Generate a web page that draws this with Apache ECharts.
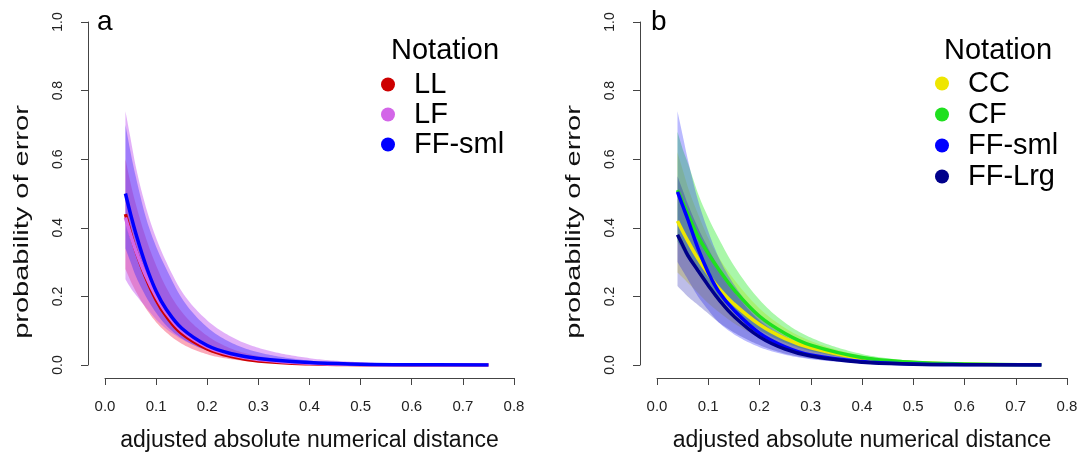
<!DOCTYPE html>
<html>
<head>
<meta charset="utf-8">
<script src="https://cdn.jsdelivr.net/npm/echarts@6/dist/echarts.min.js"></script>
<style>html,body{margin:0;padding:0;background:#fff}#c{width:1080px;height:452px}</style>
</head>
<body>
<div id="c"></div>
<script>
// ---- data ----
const xs = [0.04,0.05,0.06,0.08,0.1,0.12,0.15,0.2,0.25,0.3,0.4,0.5,0.6,0.75];

// panel a
const aLL      = [0.44,0.385,0.335,0.255,0.19,0.142,0.092,0.047,0.024,0.012,0.0035,0.001,0.0003,0.0001];
const aLLup    = [0.60,0.53,0.47,0.37,0.29,0.225,0.155,0.085,0.046,0.026,0.008,0.0025,0.0008,0.0002];
const aLLlo    = [0.28,0.245,0.215,0.165,0.125,0.095,0.062,0.031,0.016,0.008,0.002,0.0006,0.0002,0];
const aLF      = [0.43,0.38,0.335,0.26,0.20,0.152,0.10,0.053,0.029,0.016,0.005,0.0015,0.0005,0.0001];
const aLFup    = [0.74,0.66,0.58,0.46,0.37,0.30,0.215,0.13,0.08,0.05,0.02,0.008,0.003,0.001];
const aLFlo    = [0.25,0.225,0.205,0.168,0.133,0.105,0.075,0.042,0.024,0.013,0.004,0.0012,0.0004,0.0001];
const aFF      = [0.50,0.44,0.385,0.29,0.215,0.162,0.107,0.057,0.032,0.019,0.007,0.0025,0.0008,0.0002];
const aFFup    = [0.70,0.62,0.55,0.43,0.345,0.28,0.195,0.11,0.063,0.037,0.013,0.005,0.002,0.0005];
const aFFlo    = [0.34,0.30,0.26,0.20,0.152,0.115,0.078,0.042,0.023,0.013,0.004,0.0012,0.0004,0.0001];

// panel b
const bCC      = [0.42,0.39,0.362,0.31,0.265,0.225,0.178,0.118,0.077,0.05,0.019,0.007,0.0025,0.0006];
const bCCup    = [0.62,0.57,0.52,0.44,0.37,0.315,0.25,0.165,0.108,0.07,0.027,0.01,0.004,0.001];
const bCClo    = [0.27,0.255,0.24,0.21,0.18,0.155,0.122,0.08,0.051,0.033,0.012,0.004,0.0015,0.0003];
const bCF      = [0.51,0.475,0.44,0.375,0.325,0.28,0.22,0.142,0.092,0.058,0.022,0.008,0.003,0.0007];
const bCFup    = [0.68,0.63,0.59,0.50,0.43,0.37,0.29,0.19,0.123,0.08,0.032,0.012,0.005,0.0012];
const bCFlo    = [0.36,0.335,0.31,0.27,0.235,0.2,0.157,0.102,0.065,0.041,0.015,0.005,0.002,0.0004];
const bFFs     = [0.505,0.465,0.425,0.34,0.27,0.215,0.16,0.093,0.053,0.029,0.01,0.003,0.001,0.0002];
const bFFsup   = [0.74,0.67,0.60,0.48,0.39,0.315,0.235,0.14,0.085,0.05,0.018,0.0065,0.0025,0.0005];
const bFFslo   = [0.30,0.275,0.25,0.2,0.16,0.125,0.09,0.052,0.03,0.017,0.005,0.0015,0.0005,0.0001];
const bFFL     = [0.38,0.35,0.32,0.275,0.232,0.192,0.142,0.082,0.046,0.026,0.008,0.0025,0.0008,0.0002];
const bFFLup   = [0.55,0.51,0.47,0.40,0.34,0.285,0.215,0.13,0.08,0.05,0.018,0.0065,0.0025,0.0005];
const bFFLlo   = [0.23,0.215,0.2,0.175,0.15,0.125,0.095,0.058,0.033,0.019,0.006,0.0018,0.0006,0.0001];

const legendA = ['LL','LF','FF-sml'];
const legendB = ['CC','CF','FF-sml','FF-Lrg'];
const xTickLabels = ['0.0','0.1','0.2','0.3','0.4','0.5','0.6','0.7','0.8'];
const yTickLabels = ['0.0','0.2','0.4','0.6','0.8','1.0'];

// ---- styling ----
const FONT = '"Liberation Sans", Arial, Helvetica, sans-serif';
const COLORS = {
  'LL': '#CD0000', 'LF': '#D366E8', 'FF-sml': '#0000FF',
  'CC': '#EEE600', 'CF': '#1FE01F', 'FF-Lrg': '#00008B'
};
const BAND = {
  'LL': 'rgba(245,30,70,0.38)', 'LF': 'rgba(190,80,240,0.45)', 'FF-sml': 'rgba(50,40,255,0.38)',
  'CC': 'rgba(240,230,0,0.35)', 'CF': 'rgba(40,235,40,0.40)', 'FF-sml-b': 'rgba(40,40,255,0.32)', 'FF-Lrg': 'rgba(10,10,170,0.27)'
};

function pts(vals){ return xs.map((x,i)=>[x, vals[i]]); }

// monotone cubic (Fritsch-Carlson) in pixel space, used only to render smooth band edges
function smoothPath(p){
  const n = p.length, out = [];
  const d = [], m = new Array(n);
  for (let i=0;i<n-1;i++) d.push((p[i+1][1]-p[i][1])/(p[i+1][0]-p[i][0]));
  m[0]=d[0]; m[n-1]=d[n-2];
  for (let i=1;i<n-1;i++) m[i] = (d[i-1]*d[i] <= 0) ? 0 : (d[i-1]+d[i])/2;
  for (let i=0;i<n-1;i++){
    if (d[i]===0){ m[i]=0; m[i+1]=0; continue; }
    const a=m[i]/d[i], b=m[i+1]/d[i], s=a*a+b*b;
    if (s>9){ const t=3/Math.sqrt(s); m[i]=t*a*d[i]; m[i+1]=t*b*d[i]; }
  }
  for (let i=0;i<n-1;i++){
    const x0=p[i][0], x1=p[i+1][0], y0=p[i][1], y1=p[i+1][1], h=x1-x0;
    const steps = Math.max(4, Math.ceil(h/2));
    for (let k=0;k<steps;k++){
      const t=k/steps, t2=t*t, t3=t2*t;
      const y = (2*t3-3*t2+1)*y0 + (t3-2*t2+t)*h*m[i] + (-2*t3+3*t2)*y1 + (t3-t2)*h*m[i+1];
      out.push([x0+t*h, y]);
    }
  }
  out.push(p[n-1]);
  return out;
}

function band(key, colorKey, lo, up, gi){
  return { name: key + ' band ' + gi, type:'custom', xAxisIndex:gi, yAxisIndex:gi, silent:true, z:2,
    data: xs.map((x,i)=>[x, lo[i], up[i]]),
    encode:{x:0, y:[1,2]},
    renderItem: function(params, api){
      if (params.dataIndex !== 0) return null;
      const upP = xs.map((x,i)=>api.coord([x, up[i]]));
      const loP = xs.map((x,i)=>api.coord([x, lo[i]]));
      const pts2 = smoothPath(upP).concat(smoothPath(loP).reverse());
      return { type:'polygon', shape:{points:pts2}, style:{fill:BAND[colorKey], stroke:null} };
    }
  };
}
function line(key, vals, gi){
  return { name:key, type:'line', xAxisIndex:gi, yAxisIndex:gi, data:pts(vals),
    symbol:'none', smooth:0.4, color:COLORS[key],
    lineStyle:{width:3.5, color:COLORS[key]}, z:2 };
}

// drawing order as in the reference: each band then its line
const series = [
  band('LL','LL',aLLlo,aLLup,0), line('LL',aLL,0),
  band('LF','LF',aLFlo,aLFup,0), line('LF',aLF,0),
  band('FF-sml','FF-sml',aFFlo,aFFup,0), line('FF-sml',aFF,0),
  band('CC','CC',bCClo,bCCup,1), line('CC',bCC,1),
  band('CF','CF',bCFlo,bCFup,1), line('CF',bCF,1),
  band('FF-sml','FF-sml-b',bFFslo,bFFsup,1), line('FF-sml',bFFs,1),
  band('FF-Lrg','FF-Lrg',bFFLlo,bFFLup,1), line('FF-Lrg',bFFL,1)
];

function xAx(gi){
  return { type:'value', gridIndex:gi, min:0, max:0.8, interval:0.1, offset:13,
    name:'adjusted absolute numerical distance', nameLocation:'middle', nameGap:51,
    nameTextStyle:{fontFamily:FONT, fontSize:23, color:'#111'},
    axisLine:{onZero:false, lineStyle:{color:'#444', width:1}},
    axisTick:{length:7, lineStyle:{color:'#444'}},
    axisLabel:{fontFamily:FONT, fontSize:15, color:'#222', margin:21,
      formatter:(v)=>xTickLabels[Math.round(v*10)]},
    splitLine:{show:false} };
}
function yAx(gi){
  return { type:'value', gridIndex:gi, min:0, max:1, interval:0.2, offset:17,
    axisLine:{show:true, onZero:false, lineStyle:{color:'#444', width:1}},
    axisTick:{show:true, length:7, lineStyle:{color:'#444'}},
    axisLabel:{fontFamily:FONT, fontSize:14, color:'#222', margin:23, rotate:90,
      formatter:(v)=>yTickLabels[Math.round(v*5)]},
    splitLine:{show:false} };
}
function yTitle(cx){
  return { type:'text', x:cx, y:222, rotation:Math.PI/2, scaleX:1.38, scaleY:1,
    style:{text:'probability of error', font:'21px ' + FONT, fill:'#111', textAlign:'center', textVerticalAlign:'middle'} };
}

const chart = echarts.init(document.getElementById('c'), null, {renderer:'canvas'});
chart.setOption({
  animation:false,
  backgroundColor:'#fff',
  title:[
    {text:'a', left:92, top:3, textStyle:{fontFamily:FONT, fontSize:28, fontWeight:'normal', color:'#000'}},
    {text:'b', left:646, top:3, textStyle:{fontFamily:FONT, fontSize:28, fontWeight:'normal', color:'#000'}},
    {text:'Notation', left:386, top:31, textStyle:{fontFamily:FONT, fontSize:29, fontWeight:'normal', color:'#000'}},
    {text:'Notation', left:939, top:31, textStyle:{fontFamily:FONT, fontSize:29, fontWeight:'normal', color:'#000'}}
  ],
  legend:[
    {data:legendA, orient:'vertical', left:381, top:70, icon:'circle', itemWidth:14, itemHeight:14,
      itemGap:1, padding:0, selectedMode:false,
      textStyle:{fontFamily:FONT, fontSize:29, color:'#000', padding:[0,0,0,14]}},
    {data:legendB, orient:'vertical', left:935, top:69, icon:'circle', itemWidth:14, itemHeight:14,
      itemGap:2, padding:0, selectedMode:false,
      textStyle:{fontFamily:FONT, fontSize:29, color:'#000', padding:[0,0,0,14]}}
  ],
  grid:[
    {left:105, top:22, width:409, height:343, outerBoundsMode:'none', containLabel:false},
    {left:657, top:22, width:410, height:343, outerBoundsMode:'none', containLabel:false}
  ],
  xAxis:[xAx(0), xAx(1)],
  yAxis:[yAx(0), yAx(1)],
  graphic:[yTitle(22), yTitle(574)],
  series: series
});
</script>
</body>
</html>
